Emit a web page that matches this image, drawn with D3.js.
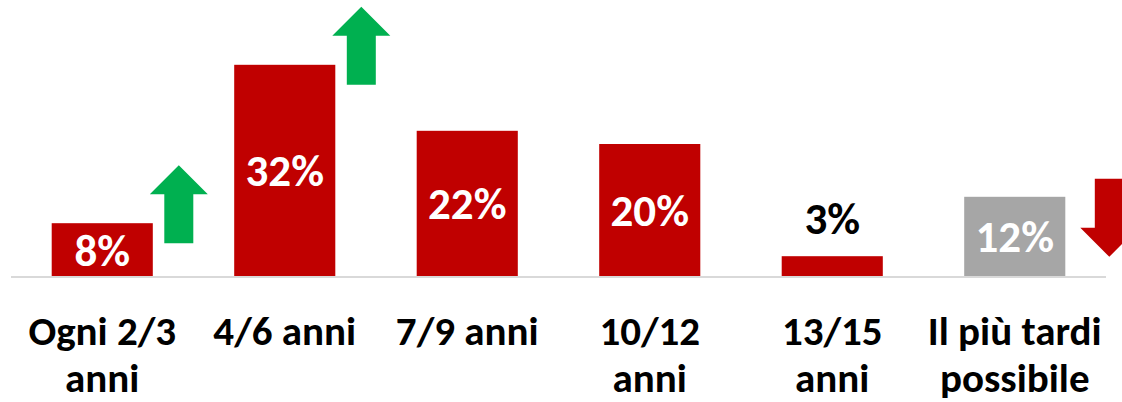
<!DOCTYPE html>
<html>
<head>
<meta charset="utf-8">
<script src="https://cdn.jsdelivr.net/npm/d3@7"></script>
<style>
  html, body { margin: 0; padding: 0; background: #fff; }
  #viz text { font-family: Calibri, Carlito, Lato, "Open Sans", sans-serif; font-weight: bold; }
</style>
</head>
<body>
<div id="viz"></div>
<script>
// categories (line breaks as in the original slide)
var categories = ["Ogni 2/3\nanni", "4/6 anni", "7/9 anni", "10/12\nanni", "13/15\nanni", "Il più tardi\npossibile"];
var values = [8, 32, 22, 20, 3, 12];
var valueLabels = ["8%", "32%", "22%", "20%", "3%", "12%"];
// 1 = growing, -1 = falling, 0 = no arrow
var trends = [1, 1, 0, 0, 0, -1];
// last bar is highlighted grey
var highlight = [false, false, false, false, false, true];

var width = 1122,
  height = 402;

var red = "#C00000", grey = "#A6A6A6", green = "#00B050";

var svg = d3.select("#viz").append("svg")
  .attr("width", width)
  .attr("height", height);

var x = d3.scaleBand()
  .domain(categories)
  .range([11, 1106])
  .paddingInner(0.446)
  .paddingOuter(0.223);

var y = d3.scaleLinear()
  .domain([0, 40])
  .range([276, 12]);

var data = categories.map(function(c, i) {
  return {cat: c, value: values[i], label: valueLabels[i], trend: trends[i], grey: highlight[i]};
});

// bars
svg.selectAll("rect.bar")
  .data(data)
  .enter().append("rect")
  .attr("class", "bar")
  .attr("x", function(d) { return x(d.cat); })
  .attr("y", function(d) { return y(d.value); })
  .attr("width", x.bandwidth())
  .attr("height", function(d) { return y(0) - y(d.value); })
  .attr("fill", function(d) { return d.grey ? grey : red; });

// baseline
svg.append("line")
  .attr("x1", x.range()[0]).attr("x2", x.range()[1])
  .attr("y1", y(0) + 1).attr("y2", y(0) + 1)
  .attr("stroke", "#D9D9D9")
  .attr("stroke-width", 2);

// value labels: centered in bar, above it when the bar is too short
function shortBar(d) { return y(0) - y(d.value) < 40; }

svg.selectAll("text.val")
  .data(data)
  .enter().append("text")
  .attr("class", "val")
  .attr("x", function(d) { return x(d.cat) + x.bandwidth() / 2; })
  .attr("y", function(d) {
    if (shortBar(d)) return y(d.value) - 22;
    return (y(d.value) + y(0)) / 2 + 16;
  })
  .attr("text-anchor", "middle")
  .attr("font-size", 45)
  .attr("fill", function(d) { return shortBar(d) ? "#000" : "#fff"; })
  .text(function(d) { return d.label; });

// category labels
var cats = svg.selectAll("text.cat")
  .data(data)
  .enter().append("text")
  .attr("class", "cat")
  .attr("text-anchor", "middle")
  .attr("font-size", 41)
  .attr("fill", "#000");

cats.selectAll("tspan")
  .data(function(d) {
    return d.cat.split("\n").map(function(t) { return {t: t, cat: d.cat}; });
  })
  .enter().append("tspan")
  .attr("x", function(d) { return x(d.cat) + x.bandwidth() / 2; })
  .attr("y", function(d, i) { return 345 + i * 47; })
  .text(function(d) { return d.t; });

// trend arrows
function arrowPath(cx, top, dir) {
  var hw = 29, sw = 14.5, len = 78, head = 29;
  var pts;
  if (dir > 0) {
    pts = [[cx, top], [cx + hw, top + head], [cx + sw, top + head], [cx + sw, top + len],
           [cx - sw, top + len], [cx - sw, top + head], [cx - hw, top + head]];
  } else {
    pts = [[cx - sw, top], [cx + sw, top], [cx + sw, top + len - head], [cx + hw, top + len - head],
           [cx, top + len], [cx - hw, top + len - head], [cx - sw, top + len - head]];
  }
  return "M" + pts.map(function(p) { return p.join(","); }).join("L") + "Z";
}

svg.selectAll("path.trend")
  .data(data.filter(function(d) { return d.trend != 0; }))
  .enter().append("path")
  .attr("class", "trend")
  .attr("d", function(d) {
    var right = x(d.cat) + x.bandwidth();
    if (d.trend > 0) {
      return arrowPath(right + 26, y(d.value) + 20 - 78, 1);
    } else {
      return arrowPath(right + 44, y(d.value) - 18, -1);
    }
  })
  .attr("fill", function(d) { return d.trend > 0 ? green : red; });
</script>
</body>
</html>
